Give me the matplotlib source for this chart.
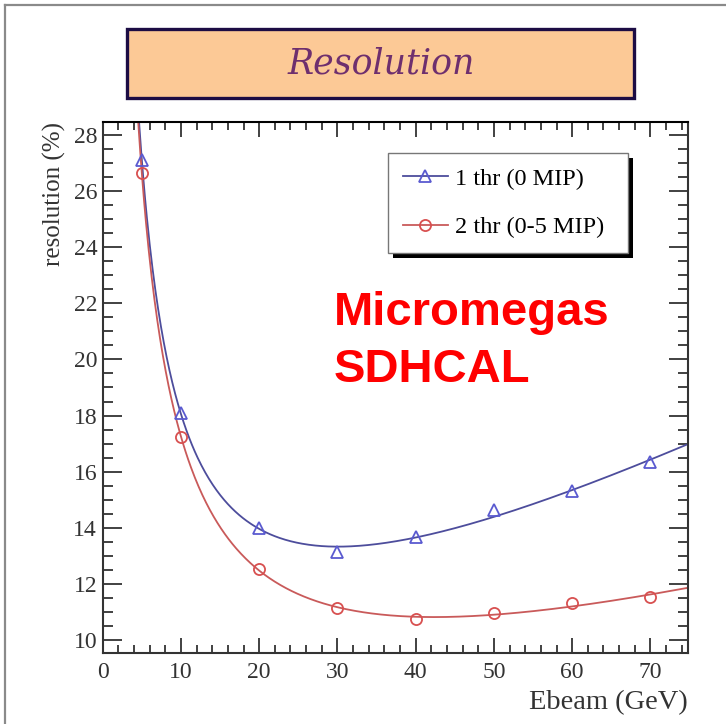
import numpy as np
import matplotlib
matplotlib.use("Agg")
import matplotlib.pyplot as plt
from matplotlib.patches import Rectangle
from matplotlib.lines import Line2D
from matplotlib.ticker import MultipleLocator

# ---- data ----
ebeam = [5, 10, 20, 30, 40, 50, 60, 70]
res_1thr = [27.1, 18.1, 13.98, 13.13, 13.68, 14.63, 15.31, 16.35]
res_2thr = [26.63, 17.25, 12.52, 11.13, 10.74, 10.97, 11.31, 11.54]
label_1thr = "1 thr (0 MIP)"
label_2thr = "2 thr (0-5 MIP)"
title_text = "Resolution"
xlabel_text = "Ebeam (GeV)"
ylabel_text = "resolution (%)"
x_ticks = [0, 10, 20, 30, 40, 50, 60, 70]
y_ticks = [10, 12, 14, 16, 18, 20, 22, 24, 26, 28]

BLUE = "#4d4d9c"
RED = "#c95a5a"
SERIF = "Liberation Serif"

W, H = 726, 724
fig = plt.figure(figsize=(W / 100, H / 100), dpi=100)
fig.patch.set_facecolor("white")

def fx(px):
    return px / W

def fy(py):
    return 1 - py / H

# outer frame lines (left & top)
fig.add_artist(Line2D([fx(5), fx(5)], [0, fy(5)], color="#8a8a8a", lw=1.6))
fig.add_artist(Line2D([fx(5), 1], [fy(5), fy(5)], color="#8a8a8a", lw=1.6))

# title box
fig.add_artist(Rectangle((fx(127), fy(98)), fx(634) - fx(127), fy(29) - fy(98),
                         facecolor="#fcc996", edgecolor="#1c0c44", lw=2.4,
                         transform=fig.transFigure))
fig.text(fx(381), fy(64), title_text, ha="center", va="center",
         fontsize=25, style="italic", family="DejaVu Serif", color="#6e2f6e")

# axes
AX_L, AX_R, AX_T, AX_B = 102.7, 688, 122, 652.7
ax = fig.add_axes([fx(AX_L), fy(AX_B), fx(AX_R) - fx(AX_L), fy(AX_T) - fy(AX_B)])
ax.set_xlim(0, 74.8)
ax.set_ylim(9.55, 28.46)

# fit curves (least squares in basis 1, E, 1/sqrt(E), 1/E)
E = np.array(ebeam, dtype=float)
def basis(x):
    x = np.asarray(x, dtype=float)
    return np.column_stack([np.ones_like(x), x, 1 / np.sqrt(x), 1 / x])
coef1, *_ = np.linalg.lstsq(basis(E), np.array(res_1thr), rcond=None)
coef2, *_ = np.linalg.lstsq(basis(E), np.array(res_2thr), rcond=None)
xf = np.linspace(3.0, 75, 600)
ax.plot(xf, basis(xf) @ coef1, color=BLUE, lw=1.3, zorder=2)
ax.plot(xf, basis(xf) @ coef2, color=RED, lw=1.3, zorder=2)

ax.plot(ebeam, res_1thr, linestyle="none", marker="^", markersize=8,
        markerfacecolor="none", markeredgecolor="#5a5ad0", markeredgewidth=1.3, zorder=3)
ax.plot(ebeam, res_2thr, linestyle="none", marker="o", markersize=8,
        markerfacecolor="none", markeredgecolor="#d85050", markeredgewidth=1.3, zorder=3)

# legend
h1 = Line2D([], [], color=BLUE, lw=1.3, marker="^", markersize=8,
            markerfacecolor="none", markeredgecolor="#5a5ad0", markeredgewidth=1.3)
h2 = Line2D([], [], color=RED, lw=1.3, marker="o", markersize=8,
            markerfacecolor="none", markeredgecolor="#d85050", markeredgewidth=1.3)
aw, ah = AX_R - AX_L, AX_B - AX_T
lx0 = (388 - AX_L) / aw
ly1 = (AX_B - 153) / ah
lw_ = (628 - 388) / aw
leg = ax.legend([h1, h2], [label_1thr, label_2thr], loc="upper left",
                bbox_to_anchor=(lx0, ly1 - 0.2, lw_, 0.2), mode="expand",
                borderaxespad=0, prop={"family": SERIF, "size": 17.5},
                frameon=True, fancybox=False, framealpha=1, edgecolor="#777777",
                borderpad=0.6, labelspacing=1.1, handlelength=1.85,
                handletextpad=0.3, numpoints=1)
leg.get_frame().set_linewidth(1.0)
leg.set_zorder(5)

# ticks
ax.xaxis.set_major_locator(MultipleLocator(10))
ax.xaxis.set_minor_locator(MultipleLocator(2))
ax.yaxis.set_major_locator(MultipleLocator(2))
ax.yaxis.set_minor_locator(MultipleLocator(0.5))
ax.set_xticks(x_ticks)
ax.set_yticks(y_ticks)
ax.set_xticklabels([str(t) for t in x_ticks])
ax.set_yticklabels([str(t) for t in y_ticks])
ax.tick_params(axis="both", which="both", direction="in", top=True, right=True,
               colors="#333333", width=1.3)
ax.tick_params(axis="x", which="major", length=11, pad=7)
ax.tick_params(axis="x", which="minor", length=5.5)
ax.tick_params(axis="y", which="major", length=14, pad=4)
ax.tick_params(axis="y", which="minor", length=7)
for lab in ax.get_xticklabels() + ax.get_yticklabels():
    lab.set_family(SERIF)
    lab.set_fontsize(17)
    lab.set_color("#333333")
for s in ax.spines.values():
    s.set_color("#333333")
    s.set_linewidth(1.5)
ax.spines["top"].set_color("black")

ax.set_xlabel(xlabel_text, loc="right", family=SERIF, fontsize=20.5, color="#333333", labelpad=5)
ax.set_ylabel(ylabel_text, loc="top", family=SERIF, fontsize=18, color="#333333", labelpad=5)

# annotation
fig.text(fx(334), fy(325), "Micromegas", ha="left", va="baseline", fontsize=34,
         fontweight="bold", family="Liberation Sans", color="#ff0000")
fig.text(fx(334), fy(381.7), "SDHCAL", ha="left", va="baseline", fontsize=34,
         fontweight="bold", family="Liberation Sans", color="#ff0000")

# legend shadow
fig.canvas.draw()
bb = leg.get_window_extent()
inv = fig.transFigure.inverted()
(x0, y0), (x1, y1) = inv.transform([[bb.x0, bb.y0], [bb.x1, bb.y1]])
fig.add_artist(Rectangle((x0 + 5 / W, y0 - 5 / H), x1 - x0, y1 - y0,
                         facecolor="black", edgecolor="none",
                         transform=fig.transFigure, zorder=1))
ax.set_zorder(2)
ax.patch.set_alpha(0)
leg.set_zorder(6)

fig.savefig("out.png", dpi=100)
